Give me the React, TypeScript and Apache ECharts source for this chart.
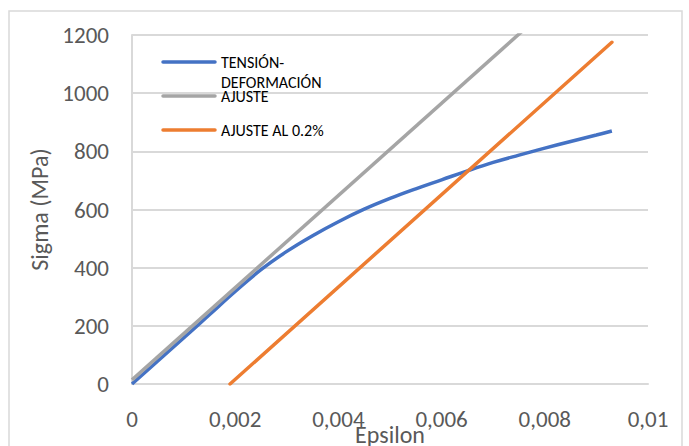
import React, { useEffect, useRef } from "react";
import * as echarts from "echarts";

const blueEps = [0, 0.0005, 0.001, 0.0015, 0.002, 0.0025, 0.003, 0.0035, 0.004, 0.0045, 0.005, 0.0055, 0.006, 0.0065, 0.007, 0.0075, 0.008, 0.0085, 0.009, 0.0093];
const blueSigma = [0, 79, 158, 238, 318, 393, 456, 510, 558, 601, 638, 671, 702, 733, 762, 787, 811, 834, 856, 870];
const grayEps = [0, 0.0077];
const graySigma = [14, 1235];
const orangeEps = [0.0019, 0.0093];
const orangeSigma = [0, 1175];
const seriesNames = ["TENSIÓN-\nDEFORMACIÓN", "AJUSTE", "AJUSTE AL 0.2%"];
const colors = ["#4472C4", "#A5A5A5", "#ED7D31"];

const FONT = "Carlito, Lato, sans-serif";

function zip(xs: number[], ys: number[]) {
  return xs.map((x, i) => [x, ys[i]]);
}

export default function App() {
  const ref = useRef<HTMLDivElement>(null);
  useEffect(() => {
    if (!ref.current) return;
    const chart = echarts.init(ref.current, null, { renderer: "svg" });
    const legendY = [62, 96, 130];
    const legendGraphics: any[] = [];
    seriesNames.forEach((n, i) => {
      legendGraphics.push({
        type: "line",
        shape: { x1: 163, y1: legendY[i], x2: 215, y2: legendY[i] },
        style: { stroke: colors[i], lineWidth: 3.5, lineCap: "round" },
        z: 100,
      });
      legendGraphics.push({
        type: "text",
        x: 221,
        y: legendY[i] - 10,
        style: {
          text: n,
          font: `16px ${FONT}`,
          fill: "#000000",
          lineHeight: 20,
          verticalAlign: "top",
        },
        z: 100,
      });
    });
    chart.setOption({
      animation: false,
      backgroundColor: "#ffffff",
      grid: { left: 132, right: 41, top: 35, bottom: 62, containLabel: false, outerBoundsMode: "none" },
      xAxis: {
        type: "value",
        min: 0,
        max: 0.01,
        interval: 0.002,
        name: "Epsilon",
        nameLocation: "middle",
        nameGap: 38,
        nameMoveOverlap: false,
        nameTextStyle: { fontFamily: FONT, fontSize: 24, color: "#595959" },
        axisLine: { show: true, lineStyle: { color: "#d9d9d9", width: 2 } },
        axisTick: { show: false },
        splitLine: { show: false },
        axisLabel: {
          fontFamily: FONT,
          fontSize: 23,
          color: "#595959",
          margin: 23,
          formatter: (v: number) => (v === 0 ? "0" : String(parseFloat(v.toFixed(4))).replace(".", ",")),
        },
      },
      yAxis: {
        type: "value",
        min: 0,
        max: 1200,
        interval: 200,
        name: "Sigma (MPa)",
        nameLocation: "middle",
        nameGap: 81,
        nameTextStyle: { fontFamily: FONT, fontSize: 24, color: "#595959" },
        axisLine: { show: true, lineStyle: { color: "#d9d9d9", width: 2 } },
        axisTick: { show: false },
        splitLine: { show: true, lineStyle: { color: "#d9d9d9", width: 2 } },
        axisLabel: {
          fontFamily: FONT,
          fontSize: 23,
          color: "#595959",
          margin: 23,
          formatter: (v: number) => String(v),
        },
      },
      graphic: [
        {
          type: "rect",
          shape: { x: 9, y: 11, width: 673, height: 450 },
          style: { fill: "none", stroke: "#d9d9d9", lineWidth: 1.5 },
          silent: true,
          z: -1,
        },
        ...legendGraphics,
      ],
      series: [
        {
          name: seriesNames[0],
          type: "line",
          data: zip(blueEps, blueSigma),
          showSymbol: false,
          smooth: 0.4,
          lineStyle: { color: colors[0], width: 3.5 },
          itemStyle: { color: colors[0] },
          z: 3,
        },
        {
          name: seriesNames[1],
          type: "line",
          data: zip(grayEps, graySigma),
          showSymbol: false,
          clip: true,
          lineStyle: { color: colors[1], width: 3.5 },
          itemStyle: { color: colors[1] },
          z: 4,
        },
        {
          name: seriesNames[2],
          type: "line",
          data: zip(orangeEps, orangeSigma),
          showSymbol: false,
          lineStyle: { color: colors[2], width: 3.5, cap: "round" },
          itemStyle: { color: colors[2] },
          z: 5,
        },
      ],
    });
    return () => chart.dispose();
  }, []);
  return (
    <div
      ref={ref}
      style={{ position: "fixed", left: 0, top: 0, width: 689, height: 446, background: "#fff" }}
    />
  );
}
